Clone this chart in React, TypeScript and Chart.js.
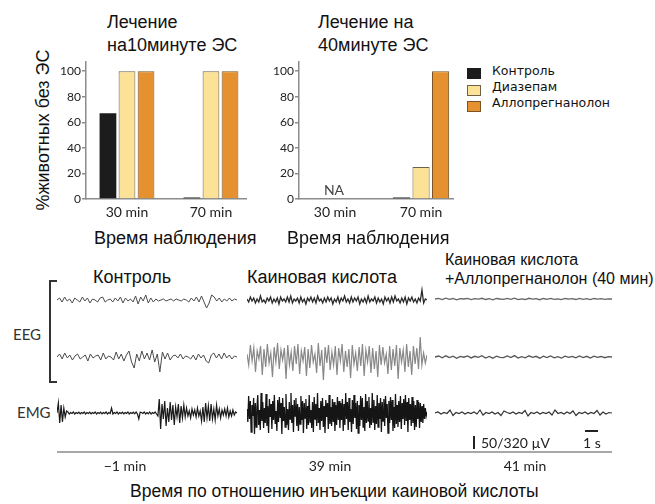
import React, { useEffect, useRef } from "react";
import { Chart, registerables } from "chart.js";
Chart.register(...registerables);

// ---------- bar chart data ----------
const categories = ["30 min", "70 min"];
const seriesNames = ["Контроль", "Диазепам", "Аллопрегнанолон"];
const yTicks = [0, 20, 40, 60, 80, 100];
const earlyControl = [67, 0];
const earlyDiazepam = [100, 100];
const earlyAllo = [100, 100];
const lateControl = [null, 0];
const lateDiazepam = [null, 25];
const lateAllo = [null, 100];

const barFills = ["#1c1c1c", "#fbe296", "#e5912f"];
const barBorders = ["#1c1c1c", "#6e6148", "#7a5426"];

// ---------- trace data (deviation from baseline) ----------
const ctrlEEG1 = [0,2,-2,3,-1,1,-3,2,0,-2,3,-1,2,-3,1,0,-2,2,3,-2,0,1,-2,2,-1,3,-3,2,-1,1,-2,4,-4,3,-1,5,-3,2,-2,1,-1,0,1,-1,0,1,-1,1,0,-1,1,0,-2,2,-1,3,-2,4,-2,-8,-3,5,3,-1,2,-2,1,-1,2,-1,1,0];
const ctrlEEG2 = [0,3,-2,4,-1,2,-3,1,3,-2,0,2,-4,3,-1,1,2,-3,4,-2,1,0,-3,5,-2,3,-4,2,6,-5,-11,3,-4,6,-2,4,-3,7,-5,3,-15,5,-2,4,-3,1,2,-1,3,-2,1,0,-2,2,-3,3,-1,2,-4,-6,2,4,-1,3,-2,4,-1,2,-2,1,0];
const kaEEG1 = [1,-2,3,-1,2,-3,1,-2,4,-2,0,-3,2,-1,3,-3,1,-2,2,-4,3,-1,1,-2,3,-2,4,-3,1,-1,2,-3,3,-2,1,-4,2,-1,3,-2,2,-3,4,-1,1,-3,2,-2,3,-1,2,-4,1,-2,3,-3,2,-1,4,-2,1,-3,3,-2,2,-1,3,-4,1,-2,2,-3,4,-2,1,-1,3,-3,2,-2,1,-4,3,-1,2,-3,3,-2,4,-1,1,-3,2,-2,3,-4,2,-1,3,-2,1,-3,2,-1,10,-3,1,0];
const kaEEG2 = [3,-8,12,-4,9,-15,6,-2,11,-18,8,-10,13,-6,4,-20,10,-5,14,-12,7,-3,9,-22,12,-8,5,-14,11,-7,13,-17,6,-4,10,-19,8,-11,12,-5,3,-16,14,-9,7,-23,10,-6,12,-13,5,-8,11,-18,9,-4,13,-15,6,-10,8,-21,12,-7,4,-14,10,-9,13,-19,7,-5,11,-16,9,-12,6,-20,12,-8,10,-6,3,-17,11,-13,8,-9,12,-22,9,-5,7,-15,13,-10,6,-18,11,-7,9,-12,20,-8,4,-6,2];
const postEEG1 = [0,0.6,-0.5,0.8,-0.3,0.5,-0.8,0.3,0,0.6,-0.6,0.4,-0.2,0.7,-0.5,0.3,-0.8,0.5,0,-0.4,0.6,-0.3,0.8,-0.6,0.2,-0.5,0.7,-0.2,0.4,-0.7,0.5,-0.3,0.6,-0.4,0.2,-0.6,0.5,-0.2,0.3,-0.5,0.6,-0.3,0.4,-0.6,0.5,-0.2,0.3,-0.4,0.2,0];
const postEEG2 = [0,1,-0.8,1.2,-0.5,0.9,-1.3,0.6,-0.2,1.1,-0.9,0.7,-0.4,1.3,-1,0.5,-1.2,0.8,-0.3,-0.7,1,-0.6,1.4,-1.1,0.4,-0.8,1.2,-0.4,0.7,-1.2,0.9,-0.5,1.1,-0.8,0.3,-1,0.8,-0.4,0.6,-0.9,1,-0.5,0.7,-1.1,0.9,-0.3,0.5,-0.7,0.4,0];
const ctrlEMG = [0,10,-10,8,-9,5,-4,2,
  1,-1,0.5,-0.5,1,-1,0.5,-0.5,0.8,-0.8,0.5,-0.5,1,-1,0.5,-0.5,0.8,-0.8,0.5,-0.5,1,-1,0.5,-0.5,0.8,-0.8,0.5,-0.5,1,-1,0.5,-0.5,5,-1,0.5,-0.5,1,-1,0.5,-0.5,0.8,-0.8,0.5,-0.5,1,-1,0.5,-0.5,0.8,-0.8,1,-1,-6,0.8,0.5,-0.5,1,-1,0.5,-0.8,1,-1,0.5,-0.5,1,-1,
  -3,14,-16,9,-6,12,-13,5,-9,11,-7,8,-12,6,-4,9,-10,7,-5,8,
  -4,5,-3,2,-5,4,-2,3,-4,5,-3,2,
  -8,6,-9,10,-5,7,-8,9,-6,4,-7,8,
  -3,4,-5,3,-2,4,-3,5,-4,2,-3,3,-2,1,0];
const kaEMG = [4,-9,17,-6,12,-19,8,-3,15,-21,10,-14,6,18,-12,3,-17,20,-8,11,-15,5,-10,19,-13,7,-20,14,-4,9,-16,12,-7,18,-11,2,-18,13,-9,16,-5,10,-21,15,-8,6,-14,19,-12,4,-17,11,-6,20,-10,8,-19,13,-3,15,-13,9,-18,6,-11,17,-7,12,-20,10,-5,14,-16,7,-12,18,-9,3,-15,11,-19,16,-6,9,-13,20,-10,5,-17,12,-8,15,-14,7,-20,13,-4,10,-16,18,-11,6,-13,14,-9,11,-18,8,-12,16,-7,12,-15,10,
  -7,14,-18,9,-12,20,-6,11,-17,15,-9,4,-19,13,-11,18,-5,10,-16,12,-20,8,-13,17,-7,15,-14,6,-18,19,-10,12,-8,16,-15,5,-12,20,-9,13,-17,7,-11,18,-14,10,-6,15,-19,11,-8,14,-13,17,-5,9,-20,12,-10,16,-7,13,-18,6,-15,19,-11,8,-14,12,-9,17,-16,10,-6,14,-12,18,-8,11,-19,15,-7,9,-13,16,-10,12,-17,8,-14,13,-6,11,-15,10,-9,7,-10,9,-6,5,-3,1];
const postEMG = [0,1,-1,0.5,-0.5,3,-2.5,0.5,-0.5,1,-1,0.5,-0.5,1,-1,3,-2,0.5,-0.5,1,-1,0.5,-2.5,2,0.5,-0.5,1,-1,0.5,-0.5,2.5,-3,0.5,-0.5,1,-1,0.5,-0.5,1,-2,3,-0.5,0.5,-1,1,-0.5,2,-2.5,0.5,-0.5,1,-1,0.5,-0.5,2.5,-2,1,-1,0.5,0];

const SANS = '"Liberation Sans", Arial, sans-serif';
const GILL = 'Lato, "Open Sans", sans-serif';

function BarPanel({ series, xMin, xMax, left, top, width, height }: any) {
  const ref = useRef<HTMLCanvasElement>(null);
  useEffect(() => {
    const chart = new Chart(ref.current as HTMLCanvasElement, {
      type: "bar",
      data: {
        datasets: series.map((vals: (number | null)[], k: number) => ({
          label: seriesNames[k],
          data: vals
            .map((v, i) => ({ x: i + 1, y: v }))
            .filter((p) => p.y !== null),
          backgroundColor: barFills[k],
          borderColor: barBorders[k],
          borderWidth: k === 0 ? 0 : 1,
          minBarLength: k === 0 ? 1.5 : 0,
          barPercentage: 0.88,
          categoryPercentage: 0.68,
        })),
      },
      options: {
        animation: false,
        responsive: false,
        events: [],
        layout: { padding: { top: 8, left: 0, right: 0, bottom: 0 } },
        plugins: { legend: { display: false }, tooltip: { enabled: false } },
        scales: {
          x: {
            type: "linear",
            min: xMin,
            max: xMax,
            offset: false,
            grid: { display: false, drawTicks: false, offset: false },
            border: { display: true, color: "#8c8c8c", width: 1.5 },
            afterBuildTicks: (s: any) => {
              s.ticks = categories.map((_, i) => ({ value: i + 1 }));
            },
            ticks: {
              callback: (v: any) => categories[Math.round(v) - 1] ?? "",
              font: { family: GILL, size: 14 },
              color: "#222",
              padding: 5,
              maxRotation: 0,
              autoSkip: false,
            },
            afterFit: (s: any) => {
              s.height = 24;
            },
          },
          y: {
            min: 0,
            max: 107,
            afterBuildTicks: (s: any) => {
              s.ticks = yTicks.map((v) => ({ value: v }));
            },
            grid: { drawOnChartArea: false, drawTicks: true, tickLength: 4, color: "#8c8c8c", lineWidth: 1.5 },
            border: { color: "#8c8c8c", width: 1.5 },
            ticks: { font: { family: GILL, size: 12 }, color: "#222", padding: 1 },
            afterFit: (s: any) => {
              s.width = 30;
            },
          },
        },
      },
    } as any);
    return () => chart.destroy();
  }, []);
  return (
    <canvas
      ref={ref}
      width={width}
      height={height}
      style={{ position: "absolute", left, top, width, height }}
    />
  );
}

function Trace({ values, left, center, width, color, lineWidth = 1 }: any) {
  const ref = useRef<HTMLCanvasElement>(null);
  useEffect(() => {
    const chart = new Chart(ref.current as HTMLCanvasElement, {
      type: "line",
      data: {
        labels: values.map((_: number, i: number) => i),
        datasets: [
          { data: values, borderColor: color, borderWidth: lineWidth, pointRadius: 0, tension: 0, fill: false },
        ],
      },
      options: {
        animation: false,
        responsive: false,
        events: [],
        layout: { padding: 0 },
        plugins: { legend: { display: false }, tooltip: { enabled: false } },
        scales: { x: { display: false }, y: { display: false, min: -30, max: 30 } },
      },
    } as any);
    return () => chart.destroy();
  }, []);
  return (
    <canvas
      ref={ref}
      width={width}
      height={60}
      style={{ position: "absolute", left, top: center - 30, width, height: 60 }}
    />
  );
}

function T({ x, y, size, family = SANS, anchor = "start", color = "#111", asc = 0.8465, children }: any) {
  const tx = anchor === "middle" ? "translateX(-50%)" : anchor === "end" ? "translateX(-100%)" : undefined;
  return (
    <div
      style={{
        position: "absolute",
        left: x,
        top: y - asc * size,
        fontSize: size,
        lineHeight: `${size}px`,
        fontFamily: family,
        whiteSpace: "nowrap",
        color,
        transform: tx,
      }}
    >
      {children}
    </div>
  );
}

function Box({ x, y, w, h, bg, border }: any) {
  return (
    <div
      style={{
        position: "absolute",
        left: x,
        top: y,
        width: w,
        height: h,
        background: bg,
        boxSizing: "border-box",
        border: border ? `1px solid ${border}` : undefined,
      }}
    />
  );
}

export default function App() {
  const G = 0.887;
  return (
    <div
      style={{
        position: "absolute",
        left: 0,
        top: 0,
        width: 655,
        height: 504,
        overflow: "hidden",
        background: "#fff",
      }}
    >
      {/* Titles */}
      <T x={107} y={28} size={18}>Лечение</T>
      <T x={107} y={51} size={18}>на10минуте ЭС</T>
      <T x={318} y={28} size={18}>Лечение на</T>
      <T x={318} y={51} size={18}>40минуте ЭС</T>

      {/* y axis title */}
      <div
        style={{
          position: "absolute",
          left: 43,
          top: 130,
          transform: "translate(-50%, -50%) rotate(-90deg)",
          fontSize: 18,
          lineHeight: "18px",
          fontFamily: SANS,
          whiteSpace: "nowrap",
          color: "#111",
        }}
      >
        %животных без ЭС
      </div>

      <BarPanel
        series={[earlyControl, earlyDiazepam, earlyAllo]}
        xMin={0.512}
        xMax={2.429}
        left={56}
        top={54}
        width={191}
        height={169}
      />
      <BarPanel
        series={[lateControl, lateDiazepam, lateAllo]}
        xMin={0.581}
        xMax={2.383}
        left={269}
        top={54}
        width={185}
        height={169}
      />
      <T x={334} y={195} size={14} family={GILL} asc={G} anchor="middle" color="#444">NA</T>

      {/* Legend */}
      {seriesNames.map((n, k) => (
        <React.Fragment key={n}>
          <Box x={467} y={68 + k * 16.5} w={14} h={11} bg={barFills[k]} border={k === 0 ? undefined : barBorders[k]} />
          <T x={492} y={77 + k * 16} size={12.5} family='"DejaVu Sans", sans-serif' asc={0.93}>{n}</T>
        </React.Fragment>
      ))}

      <T x={94} y={244} size={18}>Время наблюдения</T>
      <T x={287} y={244} size={18}>Время наблюдения</T>

      {/* Trace section labels */}
      <T x={93} y={283} size={18}>Контроль</T>
      <T x={247} y={283} size={18}>Каиновая кислота</T>
      <T x={445} y={266} size={16}>Каиновая кислота</T>
      <T x={445} y={285} size={16}>+Аллопрегнанолон (40 мин)</T>

      {/* EEG bracket */}
      <Box x={49} y={280} w={2} h={103} bg="#333" />
      <Box x={49} y={280} w={8} h={2} bg="#333" />
      <Box x={49} y={381} w={8} h={2} bg="#333" />
      <T x={13} y={340} size={15} family={GILL} asc={G} color="#333">EEG</T>
      <T x={17} y={418} size={15} family={GILL} asc={G} color="#333">EMG</T>

      {/* Traces */}
      <Trace values={ctrlEEG1} left={57} center={300} width={180} color="#4a4a4a" />
      <Trace values={ctrlEEG2} left={57} center={357} width={180} color="#4a4a4a" />
      <Trace values={ctrlEMG} left={57} center={413} width={180} color="#1a1a1a" lineWidth={1.2} />
      <Trace values={kaEEG1} left={247} center={300} width={180} color="#2a2a2a" lineWidth={1.3} />
      <Trace values={kaEEG2} left={247} center={357} width={180} color="#888" lineWidth={1.2} />
      <Trace values={kaEMG} left={247} center={413} width={180} color="#151515" lineWidth={1.3} />
      <Trace values={postEEG1} left={435} center={299} width={177} color="#666" lineWidth={1.3} />
      <Trace values={postEEG2} left={435} center={357} width={177} color="#555" lineWidth={1.3} />
      <Trace values={postEMG} left={435} center={413} width={177} color="#333" lineWidth={1.2} />

      {/* Scale bars */}
      <Box x={473} y={436} w={2} h={13} bg="#222" />
      <T x={481} y={448} size={14} family={GILL} asc={G} color="#222">50/320 µV</T>
      <Box x={585} y={430} w={13} h={2} bg="#222" />
      <T x={592} y={448} size={14} family={GILL} asc={G} anchor="middle" color="#222">1 s</T>

      {/* Time axis */}
      <Box x={57} y={451} w={555} h={2} bg="#a8a8a8" />
      <T x={125} y={471} size={14} family={GILL} asc={G} anchor="middle" color="#222">−1 min</T>
      <T x={330} y={471} size={14} family={GILL} asc={G} anchor="middle" color="#222">39 min</T>
      <T x={525} y={471} size={14} family={GILL} asc={G} anchor="middle" color="#222">41 min</T>

      <T x={130} y={498} size={17.5}>Время по отношению инъекции каиновой кислоты</T>
    </div>
  );
}
